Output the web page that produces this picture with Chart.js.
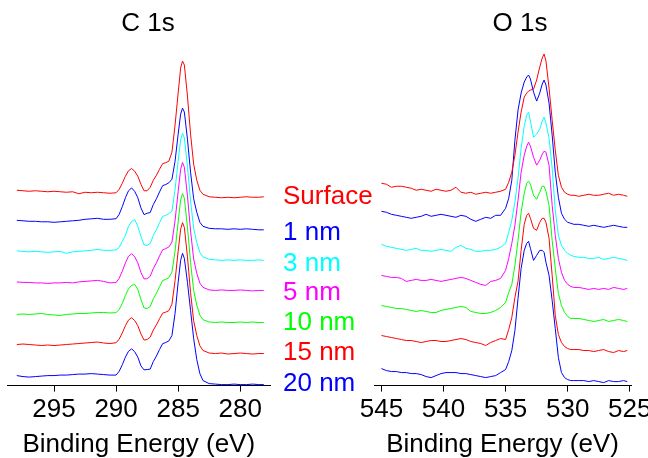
<!DOCTYPE html>
<html>
<head>
<meta charset="utf-8">
<title>XPS depth profile</title>
<script src="https://cdn.jsdelivr.net/npm/chart.js@4.4.1/dist/chart.umd.min.js"></script>
<style>
  html, body { margin: 0; padding: 0; background: #fff; overflow: hidden; }
  body { width: 648px; height: 458px; position: relative; font-family: "Liberation Sans", Arial, sans-serif; }
  canvas { position: absolute; top: 0; }
  #chartC { left: 0; }
  #chartO { left: 330px; }
  .titulo { position: absolute; top: 7px; font-size: 26px; line-height: 30px; color: #000; transform: translateX(-50%); white-space: nowrap; }
  #legenda { position: absolute; left: 283px; top: 0; }
  #legenda div { position: absolute; left: 0; font-size: 26px; line-height: 30px; white-space: nowrap; }
</style>
</head>
<body>
<canvas id="chartC" width="280" height="460"></canvas>
<canvas id="chartO" width="330" height="460"></canvas>
<div class="titulo" style="left:148px">C 1s</div>
<div class="titulo" style="left:520px">O 1s</div>
<div id="legenda"></div>

<script>
/* global Chart */

// ================== DADOS ==================
const rotulos = ["Surface", "1 nm", "3 nm", "5 nm", "10 nm", "15 nm", "20 nm"];
const cores = ["#ff0000", "#0000ff", "#00ffff", "#ff00ff", "#00ff00", "#ff0000", "#0000ff"];

// marcas dos eixos x
const ticksC = [295, 290, 285, 280];
const ticksO = [545, 540, 535, 530, 525];

// C 1s - binding energy (eV)
const energiaC = [
  298.0, 297.5, 297.0, 296.5, 296.0, 295.5, 295.0, 294.5, 294.0, 293.5, 293.0, 292.5, 292.0, 291.5, 291.0, 290.5,
  290.0, 289.75, 289.5, 289.25, 289.0, 288.75, 288.5, 288.25, 288.0,
  287.75, 287.5,
  287.25, 287.0, 286.75, 286.5, 286.25, 286.0, 285.75,
  285.5, 285.25, 285.0, 284.8, 284.65, 284.5, 284.25, 284.0, 283.75, 283.5, 283.25, 283.0,
  282.5, 282.0, 281.5, 281.0, 280.5, 280.0, 279.5, 279.0, 278.5, 278.1,
];

// C 1s intensities (a.u., stacked)
const cSurface = [
  195, 194.5, 194, 194.5, 194, 193.5, 194, 193.5, 193, 193.5, 191.5, 193, 192.5, 193, 192.5, 192,
  192.5, 196, 202, 209, 214.5, 216.7, 214, 209, 201,
  194.5, 194.5,
  198, 205, 210, 216, 221.5, 222.5, 224,
  233, 260, 292, 317, 324, 320, 289, 251, 221, 205, 195, 191,
  188.5, 188, 187.5, 188, 187.5, 188, 188.5, 188, 188, 188.5,
];
const c1nm = [
  165, 164.5, 164, 164, 163.5, 163.5, 163, 163.5, 164, 164.5, 165, 166, 166.5, 167, 166, 166,
  166.6, 171, 178.7, 187.5, 194.5, 197.3, 193.9, 187.5, 177.4,
  170.7, 172,
  172.8, 180.8, 186.5, 193.3, 199.6, 200.7, 202.4,
  206, 224, 251, 271, 277, 273, 246, 213, 186.5, 173, 163, 159,
  157, 156.5, 156.5, 156, 156.5, 156, 156.5, 156, 155.5, 155.5,
];
const c3nm = [
  134.5, 134, 133.5, 134, 133.5, 133, 133.5, 134, 132, 133.5, 134, 134.5, 135, 136, 135, 135,
  135.5, 138, 144, 150, 159, 164, 165.7, 159, 149,
  140.5, 140,
  141.9, 149.9, 155.7, 162.6, 168.9, 170, 171.7,
  174, 195.5, 224, 245.4, 251.8, 247.2, 218.8, 184.3, 157, 142.8, 132.9, 128.5,
  126, 125.5, 125, 125.5, 125, 125.5, 125, 125, 125.5, 125,
];
const c5nm = [
  103.5, 103, 103, 102.5, 102.5, 102, 102.5, 102.5, 103, 102.5, 103.5, 104, 104.5, 105, 104, 102.5,
  102.9, 107.1, 114.2, 122.5, 129.1, 131.7, 128.5, 122.5, 113,
  106.5, 106.7,
  109.1, 117, 122.6, 129.4, 135.6, 136.7, 138.4,
  143.3, 164.5, 193.7, 215.9, 222.7, 218, 189.4, 154.2, 126.4, 112.1, 102.3, 98.1,
  95.5, 95, 95.5, 95, 95, 95.5, 95, 94.5, 95, 95,
];
const c10nm = [
  71, 71.5, 71, 71.5, 72, 71, 70.5, 70, 71, 71.5, 72, 72, 72.5, 73, 73, 72.5,
  72.8, 76, 82, 90, 96.5, 100, 101, 96, 86,
  77.5, 77,
  78.9, 86.7, 92.2, 98.8, 104.9, 106, 107.7,
  113.3, 134.2, 163.3, 185.2, 191.7, 187, 158.1, 122.9, 94.9, 80.4, 70.3, 65.8,
  63.5, 63, 63.5, 63, 63, 63.5, 63, 63.5, 63, 63,
];
const c15nm = [
  41, 41.5, 41, 40.5, 40, 40.5, 40, 40.5, 41, 41.5, 42, 42.5, 43, 43.5, 42.5, 42,
  42.8, 46.4, 52.6, 59.8, 65.4, 67.7, 64.9, 59.8, 51.6,
  45.5, 46,
  48.4, 55.5, 60.6, 66.7, 72.3, 73.3, 74.8,
  81.3, 104.7, 134.1, 156.1, 162.7, 157.9, 128.6, 92.9, 64.7, 50, 39.7, 35.1,
  32.5, 32, 32.5, 31.5, 32, 32.5, 32, 31.5, 32, 32,
];
const c20nm = [
  10, 9, 8.5, 9, 9.5, 10, 10, 10.5, 10.5, 11, 11.5, 11.5, 12, 11.5, 11, 10.5,
  10.5, 14.3, 20.8, 28.4, 34.3, 36.7, 33.8, 28.4, 19.7,
  15.7, 16,
  16.5, 24.1, 29.5, 36, 41.9, 43, 44.6,
  50, 72, 103, 125, 132, 127, 103, 75, 47, 26, 12, 5,
  2, 1.5, 1, 1, 1.5, 1, 1, 1.5, 1, 1,
];

// O 1s - binding energy (eV)
const energiaO = [
  545.0, 544.6, 544.2, 543.8, 543.4, 543.0, 542.6, 542.2, 541.8, 541.4, 541.0, 540.6, 540.2,
  539.8, 539.4, 539.0, 538.6, 538.2, 537.8, 537.4, 537.0, 536.6, 536.2, 535.8, 535.4,
  535.0, 534.75, 534.5, 534.25, 534.0, 533.75, 533.5, 533.3, 533.15, 533.0, 532.75, 532.5, 532.25,
  532.05, 531.9, 531.75, 531.5, 531.25, 531.0, 530.75, 530.5, 530.25, 530.0, 529.75, 529.5,
  529.1, 528.7, 528.3, 527.9, 527.5, 527.1, 526.7, 526.3, 525.9, 525.5, 525.2,
];

// O 1s intensities (a.u., stacked)
const oSurface = [
  202, 201, 198, 199, 199, 198, 197, 195, 196, 195, 194, 196, 195,
  194, 195, 198, 193, 192, 193, 191, 192, 193, 192, 193, 194,
  196, 203, 213, 230, 253, 273, 288, 292, 294, 295, 296, 305, 318,
  327, 331, 324, 297, 265, 235, 210, 198, 193, 191, 190, 190,
  189, 190, 191, 190, 190, 191, 192, 190, 191, 190, 189,
];
const o1nm = [
  174, 173, 171, 170, 169, 168, 167, 168, 169, 171, 169, 170, 171,
  170, 169, 168, 170, 169, 166, 164, 166, 168, 167, 170, 170,
  177, 187, 205, 245, 275, 292, 303, 308, 310, 306, 293, 284, 292,
  301, 305, 300, 282, 250, 213, 188, 172, 166, 163, 162, 161,
  161, 160, 159, 160, 159, 158, 159, 160, 159, 158, 158,
];
const o3nm = [
  141, 139, 138, 137, 136, 135, 136, 137, 135, 135, 134, 135, 136,
  135, 134, 138, 140, 137, 136, 134, 134, 135, 135, 136, 138,
  142, 153, 165, 183, 207, 237, 259, 270, 273, 264, 248, 251, 256,
  264, 268, 262, 247, 217, 175, 150, 140, 135, 132, 130, 129,
  128, 128, 127, 127, 128, 126, 127, 128, 127, 126, 125,
];
const o5nm = [
  110, 109, 108, 108, 107, 104, 105, 106, 105, 105, 106, 105, 104,
  105, 106, 107, 108, 107, 105, 103, 101, 100, 104, 105, 107,
  115, 127, 142, 160, 185, 213, 230, 239, 243, 239, 228, 220, 225,
  231, 234, 233, 220, 180, 150, 127, 113, 105, 101, 99, 98,
  98, 97, 96, 97, 96, 97, 96, 98, 97, 96, 97,
];
const o10nm = [
  80, 79, 78, 77, 77, 76, 75, 74, 75, 74, 73, 73, 75,
  76, 77, 78, 79, 78, 74, 73, 72, 72, 73, 75, 78,
  83, 93, 101, 120, 145, 173, 192, 202, 204, 201, 190, 186, 193,
  199, 199, 194, 180, 145, 117, 92, 80, 73, 69, 67, 67,
  67, 66, 65, 64, 65, 66, 64, 65, 66, 65, 64,
];
const o15nm = [
  50, 49, 48, 47, 46, 45, 45, 44, 43, 44, 45, 45, 44,
  44, 45, 46, 47, 46, 44, 43, 42, 40, 43, 45, 47,
  46, 56, 68, 88, 104, 135, 161, 170, 172, 167, 157, 155, 163,
  167, 167, 163, 147, 110, 70, 51, 43, 39, 37, 36, 36,
  36, 35, 35, 34, 35, 36, 34, 33, 35, 34, 35,
];
const o20nm = [
  17, 15, 14, 14, 13, 13, 12, 12, 11, 9, 8, 10, 12,
  13, 13, 13, 12, 12, 11, 10, 9, 8, 9, 10, 13,
  16, 24, 35, 55, 87, 117, 135, 142, 144, 137, 125, 130, 135,
  135, 133, 123, 110, 85, 57, 28, 13, 8, 6, 5, 5,
  5, 5, 4, 5, 4, 3, 5, 4, 4, 5, 4,
];

const seriesC = [cSurface, c1nm, c3nm, c5nm, c10nm, c15nm, c20nm];
const seriesO = [oSurface, o1nm, o3nm, o5nm, o10nm, o15nm, o20nm];

// ================== GRÁFICOS ==================
const fonte = { family: "'Liberation Sans', Arial, sans-serif", size: 26 };

function montaDatasets(energias, series) {
  return series.map((valores, i) => ({
    label: rotulos[i],
    data: energias.map((e, j) => ({ x: e, y: valores[j] })),
    borderColor: cores[i],
    borderWidth: 1,
    pointRadius: 0,
    tension: 0,
    fill: false,
  }));
}

function graficoXPS(id, energias, series, marcas, xMin, xMax, padding) {
  const el = document.getElementById(id);
  if (!el || typeof Chart === "undefined") return;

  new Chart(el, {
    type: "line",
    data: { datasets: montaDatasets(energias, series) },
    options: {
      responsive: false,
      animation: false,
      devicePixelRatio: 1,
      layout: { padding: padding },
      plugins: { legend: { display: false }, tooltip: { enabled: false } },
      scales: {
        x: {
          type: "linear",
          reverse: true,
          min: xMin,
          max: xMax,
          bounds: "data",
          // só as marcas redondas, sem os limites do eixo
          afterBuildTicks: (scale) => {
            scale.ticks = marcas.map((v) => ({ value: v }));
          },
          border: { display: true, color: "#000", width: 1 },
          grid: { drawOnChartArea: false, drawTicks: true, tickLength: 6, color: "#000" },
          ticks: {
            autoSkip: false,
            maxRotation: 0,
            color: "#000",
            font: fonte,
          },
          title: {
            display: true,
            text: "Binding Energy (eV)",
            color: "#000",
            font: fonte,
            padding: { top: 0, bottom: 0 },
          },
        },
        y: { display: false, min: 0, max: 340, bounds: "data" },
      },
    },
  });
}

graficoXPS("chartC", energiaC, seriesC, ticksC, 277.6, 298.75, { left: 7.5, right: 10, top: 45, bottom: 0 });
graficoXPS("chartO", energiaO, seriesO, ticksO, 524.9, 545.6, { left: 44, right: 29, top: 45, bottom: 0 });

// ================== LEGENDA ==================
const legenda = document.getElementById("legenda");
const centrosLegenda = [195, 230.5, 262, 291, 321, 351, 382];

rotulos.forEach((texto, i) => {
  const item = document.createElement("div");
  item.textContent = texto;
  item.style.color = cores[i];
  item.style.top = centrosLegenda[i] - 15 + "px";
  legenda.appendChild(item);
});
</script>
</body>
</html>
